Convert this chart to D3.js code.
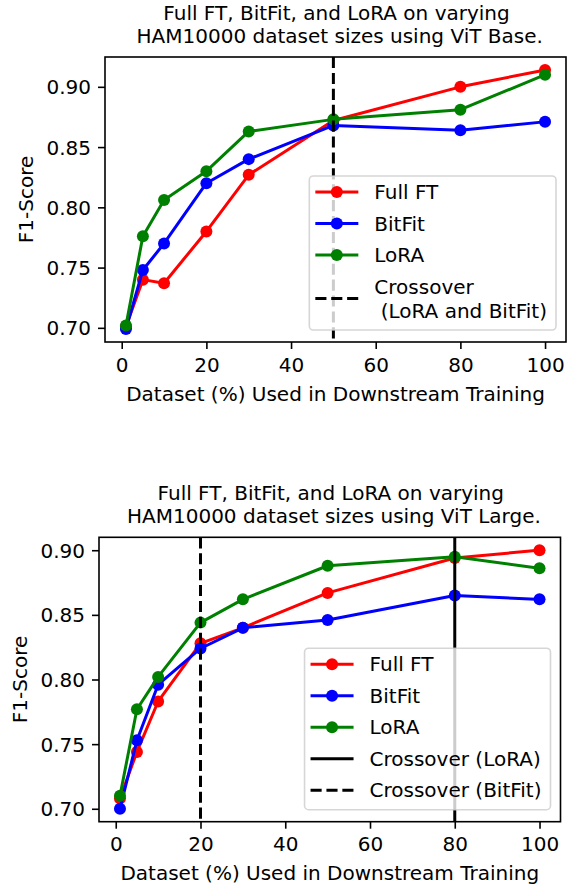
<!DOCTYPE html>
<html>
<head>
<meta charset="utf-8">
<script src="https://cdn.jsdelivr.net/npm/d3@7"></script>
<style>
  html, body { margin: 0; padding: 0; background: #fff; }
  svg { display: block; }
  text { font-family: "DejaVu Sans", sans-serif; fill: #000; white-space: pre; }
</style>
</head>
<body>
<svg id="chart" width="570" height="888"></svg>
<script>
// ---------- data ----------
const pct = [1, 5, 10, 20, 30, 50, 80, 100];

const baseFullFT = [0.701, 0.740, 0.737, 0.780, 0.827, 0.872, 0.900, 0.914];
const baseBitFit = [0.699, 0.748, 0.770, 0.820, 0.840, 0.868, 0.864, 0.871];
const baseLoRA   = [0.702, 0.776, 0.806, 0.830, 0.863, 0.873, 0.881, 0.910];

const largeFullFT = [0.708, 0.744, 0.783, 0.828, 0.840, 0.867, 0.894, 0.900];
const largeBitFit = [0.700, 0.753, 0.796, 0.824, 0.840, 0.846, 0.865, 0.862];
const largeLoRA   = [0.710, 0.777, 0.802, 0.844, 0.862, 0.888, 0.895, 0.886];

const seriesNames = ["Full FT", "BitFit", "LoRA"];
const xTicks = [0, 20, 40, 60, 80, 100];
const yTicks = [0.70, 0.75, 0.80, 0.85, 0.90];

const baseCrossovers  = [{ x: 50, label: "Crossover\n (LoRA and BitFit)", dashed: true }];
const largeCrossovers = [{ x: 80, label: "Crossover (LoRA)", dashed: false },
                         { x: 20, label: "Crossover (BitFit)", dashed: true }];

const titleBase  = ["Full FT, BitFit, and LoRA on varying", " HAM10000 dataset sizes using ViT Base."];
const titleLarge = ["Full FT, BitFit, and LoRA on varying", " HAM10000 dataset sizes using ViT Large."];
const xLabel = "Dataset (%) Used in Downstream Training";
const yLabel = "F1-Score";

// ---------- style ----------
const colors = ["#ff0000", "#0000ff", "#008000"];
const FS = 20;
const LW = 3;
const R = 6;
const DASH = "11.1,4.8";

const svg = d3.select("#chart");

function padDomain(vals) {
  const [a, b] = d3.extent(vals);
  const m = (b - a) * 0.05;
  return [a - m, b + m];
}

function drawChart(opts) {
  const { left, right, top, bottom, title, series, crossovers } = opts;
  const g = svg.append("g");

  const x = d3.scaleLinear().domain(padDomain(pct)).range([left, right]);
  const y = d3.scaleLinear().domain(padDomain(series.flat())).range([bottom, top]);

  // title
  title.forEach((t, i) => {
    g.append("text")
      .attr("x", (left + right) / 2 + 1)
      .attr("y", top - 14 - (title.length - 1 - i) * 23.5)
      .attr("text-anchor", "middle")
      .style("font-size", FS + "px")
      .text(t);
  });

  const clipId = "clip" + Math.round(top);
  g.append("clipPath").attr("id", clipId)
    .append("rect").attr("x", left).attr("y", top)
    .attr("width", right - left).attr("height", bottom - top);

  const plot = g.append("g").attr("clip-path", `url(#${clipId})`);

  const line = d3.line().x((d, i) => x(pct[i])).y(d => y(d));
  series.forEach((vals, si) => {
    plot.append("path")
      .attr("d", line(vals))
      .attr("fill", "none")
      .attr("stroke", colors[si])
      .attr("stroke-width", LW)
      .attr("stroke-linejoin", "round")
      .attr("stroke-linecap", "square");
    plot.selectAll(null).data(vals).enter().append("circle")
      .attr("cx", (d, i) => x(pct[i]))
      .attr("cy", d => y(d))
      .attr("r", R)
      .attr("fill", colors[si]);
  });

  crossovers.forEach(c => {
    plot.append("line")
      .attr("x1", x(c.x)).attr("x2", x(c.x))
      .attr("y1", top).attr("y2", bottom)
      .attr("stroke", "#000")
      .attr("stroke-width", LW)
      .attr("stroke-dasharray", c.dashed ? DASH : null);
  });

  // axes
  const xAxis = d3.axisBottom(x).tickValues(xTicks).tickSize(7).tickPadding(7)
    .tickFormat(d3.format("d"));
  const gx = g.append("g").attr("transform", `translate(0,${bottom})`).call(xAxis);
  const yAxis = d3.axisLeft(y).tickValues(yTicks).tickSize(7).tickPadding(7)
    .tickFormat(d3.format(".2f"));
  const gy = g.append("g").attr("transform", `translate(${left},0)`).call(yAxis);
  [gx, gy].forEach(a => {
    a.select(".domain").remove();
    a.selectAll(".tick line").attr("stroke", "#000").attr("stroke-width", 1.6);
    a.selectAll(".tick text").style("font-size", FS + "px")
      .style("font-family", "DejaVu Sans").attr("fill", "#000");
  });
  gx.selectAll(".tick text").attr("dy", null).attr("y", 29.5);
  gy.selectAll(".tick text").attr("dy", "0.35em").attr("x", -14);

  // frame
  g.append("rect")
    .attr("x", left).attr("y", top)
    .attr("width", right - left).attr("height", bottom - top)
    .attr("fill", "none").attr("stroke", "#000").attr("stroke-width", 1.6);

  // labels
  g.append("text")
    .attr("x", (left + right) / 2).attr("y", bottom + 58.5)
    .attr("text-anchor", "middle").style("font-size", FS + "px")
    .text(xLabel);
  g.append("text")
    .attr("transform", `translate(${left - 72},${(top + bottom) / 2}) rotate(-90)`)
    .attr("text-anchor", "middle").style("font-size", FS + "px")
    .text(yLabel);

  // legend
  const entries = seriesNames.map((n, i) => ({ label: n, color: colors[i], marker: true }))
    .concat(crossovers.map(c => ({ label: c.label, color: "#000", marker: false, dashed: c.dashed })));

  const lg = g.append("g");
  const box = lg.append("rect");
  let cy = 16;
  const rows = [];
  entries.forEach((e, i) => {
    const lines = e.label.split("\n");
    if (i > 0) cy += 31.5 + (lines.length - 1) * 12;
    rows.push({ e, lines, cy });
    if (lines.length > 1) cy += (lines.length - 1) * 12;
  });
  const lastCy = cy;
  const boxH = lastCy + 19.5;

  let maxW = 0;
  const texts = [];
  rows.forEach(r => {
    r.lines.forEach((ln, li) => {
      const t = lg.append("text").style("font-size", FS + "px")
        .attr("dy", "0.35em").text(ln);
      texts.push({ t, r, li });
      maxW = Math.max(maxW, t.node().getComputedTextLength());
    });
  });
  const boxW = 65 + maxW + 9;
  const bx = right - 10 - boxW;
  const by = bottom - 12 - boxH;

  box.attr("x", bx).attr("y", by).attr("width", boxW).attr("height", boxH)
    .attr("rx", 4).attr("ry", 4)
    .attr("fill", "#fff").attr("fill-opacity", 0.8)
    .attr("stroke", "#cccccc").attr("stroke-opacity", 0.8).attr("stroke-width", 1.6);

  texts.forEach(({ t, r, li }) => {
    const n = r.lines.length;
    const yy = by + r.cy - (n - 1) * 12 + li * 24;
    t.attr("x", bx + 65).attr("y", yy);
  });

  rows.forEach(r => {
    const yy = by + r.cy;
    lg.append("line")
      .attr("x1", bx + 6).attr("x2", bx + 49)
      .attr("y1", yy).attr("y2", yy)
      .attr("stroke", r.e.color).attr("stroke-width", LW)
      .attr("stroke-dasharray", r.e.dashed ? DASH : null);
    if (r.e.marker) {
      lg.append("circle").attr("cx", bx + 27.5).attr("cy", yy).attr("r", R)
        .attr("fill", r.e.color);
    }
  });
}

drawChart({
  left: 105, right: 566, top: 57, bottom: 342,
  title: titleBase,
  series: [baseFullFT, baseBitFit, baseLoRA],
  crossovers: baseCrossovers
});

drawChart({
  left: 99, right: 560.5, top: 537.3, bottom: 821.7,
  title: titleLarge,
  series: [largeFullFT, largeBitFit, largeLoRA],
  crossovers: largeCrossovers
});
</script>
</body>
</html>
